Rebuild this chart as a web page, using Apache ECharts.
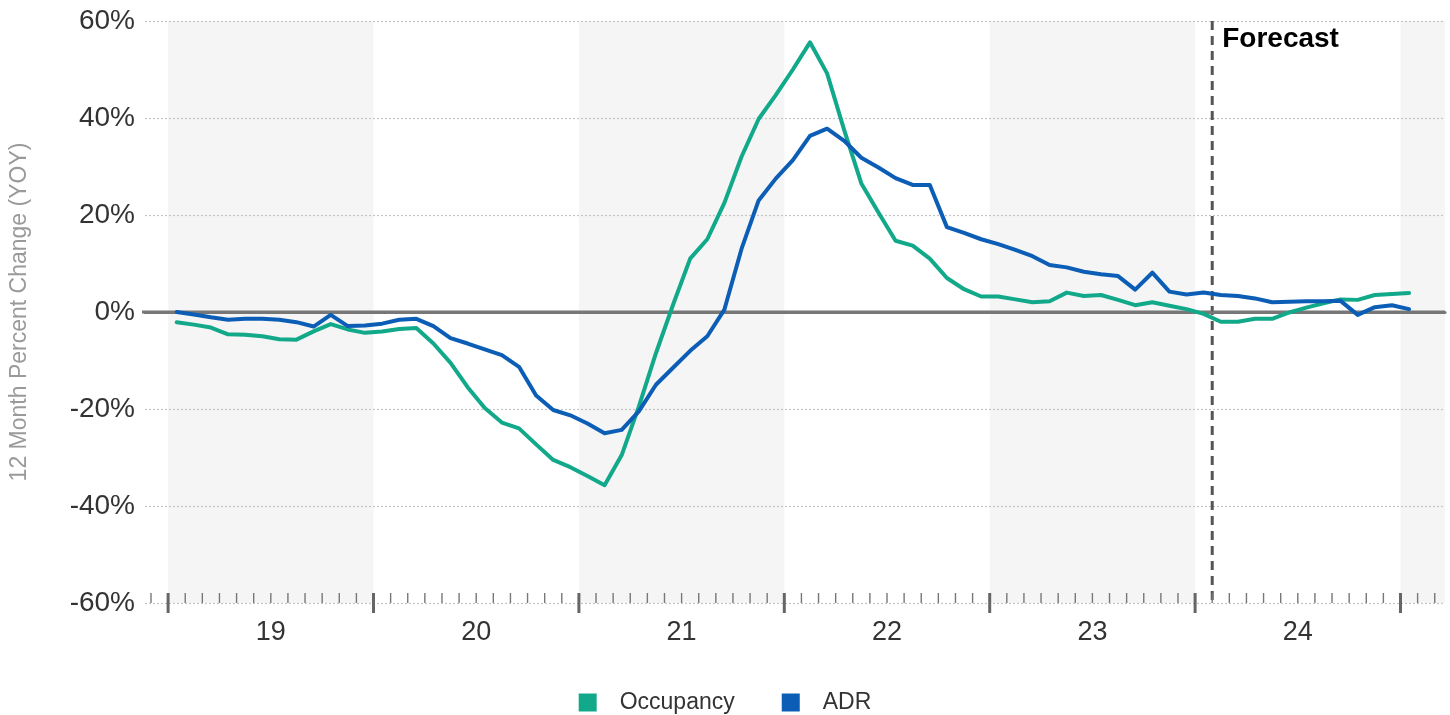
<!DOCTYPE html>
<html>
<head>
<meta charset="utf-8">
<script src="https://cdn.jsdelivr.net/npm/echarts@6/dist/echarts.min.js"></script>
<style>
  html, body { margin: 0; padding: 0; background: #fff; }
  #chart { width: 1450px; height: 715px; }
</style>
</head>
<body>
<div id="chart"></div>
<script>
// Monthly year-over-year change, Jan 2019 – Jan 2025
const firstYear = 2019;
const monthCount = 73;
const months = [];
for (let i = 0; i < monthCount; i++) {
  const y = firstYear + Math.floor(i / 12);
  const m = (i % 12) + 1;
  months.push(y + '-' + (m < 10 ? '0' + m : m));
}

const yearLabels = ['19', '20', '21', '22', '23', '24'];
const shadedYears = [2019, 2021, 2023, 2025];
const forecastStart = '2024-02';

const occupancy = [
  -2.1, -2.6, -3.2, -4.6, -4.7, -5.0, -5.6, -5.7, -4.0, -2.5, -3.6, -4.3,
  -4.0, -3.5, -3.3, -6.5, -10.5, -15.5, -19.8, -22.8, -24.0, -27.3, -30.5, -32.0,
  -33.8, -35.7, -29.5, -19.5, -8.5, 1.5, 11.0, 15.0, 22.5, 32.0, 39.8, 44.7,
  50.0, 55.6, 49.2, 37.5, 26.5, 20.5, 14.7, 13.7, 11.0, 7.0, 4.7, 3.2,
  3.2, 2.6, 2.0, 2.2, 4.0, 3.3, 3.5, 2.5, 1.4, 2.0, 1.3, 0.6,
  -0.4, -2.0, -2.0, -1.4, -1.4, -0.1, 0.9, 1.8, 2.6, 2.5, 3.5, 3.7,
  3.9
];

const adr = [
  0.0, -0.5, -1.1, -1.6, -1.4, -1.4, -1.6, -2.1, -3.0, -0.6, -2.9, -2.8,
  -2.4, -1.6, -1.4, -2.9, -5.4, -6.5, -7.7, -8.9, -11.3, -17.2, -20.2, -21.3,
  -23.0, -25.0, -24.3, -20.5, -15.0, -11.5, -8.0, -5.0, 0.5, 13.0, 23.0, 27.5,
  31.3, 36.3, 37.8, 35.3, 31.8, 29.8, 27.6, 26.2, 26.2, 17.5, 16.3, 15.0,
  14.0, 12.8, 11.5, 9.7, 9.2, 8.3, 7.8, 7.4, 4.6, 8.1, 4.2, 3.6,
  4.0, 3.5, 3.3, 2.8, 2.0, 2.1, 2.2, 2.2, 2.3, -0.6, 1.0, 1.4,
  0.6
];

// x is measured in months from the start of the first year; each value sits mid-month
const monthPos = label => {
  const [y, m] = label.split('-').map(Number);
  return (y - firstYear) * 12 + (m - 1);
};
const toPairs = values => values.map((v, i) => [monthPos(months[i]) + 0.5, v]);

const X_MIN = -1.35, X_MAX = 74.6;
const Y_MIN = -60, Y_MAX = 60;
const GREEN = '#12a88a', BLUE = '#0b5db5';
const FONT = '"Liberation Sans", Arial, sans-serif';

const bandData = shadedYears.map(y => [(y - firstYear) * 12, (y - firstYear + 1) * 12]);
const tickData = [];
for (let m = Math.ceil(X_MIN); m <= Math.floor(X_MAX); m++) tickData.push([m, Y_MIN]);
const yearCenters = yearLabels.map((_, i) => i * 12 + 6);

const chart = echarts.init(document.getElementById('chart'), null, { renderer: 'canvas' });

chart.setOption({
  animation: false,
  textStyle: { fontFamily: FONT },
  grid: { left: 145, right: 5, top: 21, bottom: 112, containLabel: false, outerBoundsMode: 'none' },
  legend: {
    data: ['Occupancy', 'ADR'],
    left: 'center',
    top: 686,
    icon: 'rect',
    itemWidth: 18,
    itemHeight: 18,
    itemGap: 47,
    textStyle: { fontSize: 23, color: '#333', fontFamily: FONT, padding: [0, 0, 0, 18] }
  },
  xAxis: {
    type: 'value',
    min: X_MIN,
    max: X_MAX,
    z: 2,
    axisLine: { show: true, lineStyle: { color: '#777', width: 3 } },
    axisTick: { show: false },
    splitLine: { show: false },
    axisLabel: {
      customValues: yearCenters,
      formatter: v => yearLabels[Math.round((v - 6) / 12)] || '',
      fontSize: 27,
      color: '#333',
      margin: 16
    }
  },
  yAxis: {
    type: 'value',
    min: Y_MIN,
    max: Y_MAX,
    interval: 20,
    z: 1,
    name: '12 Month Percent Change (YOY)',
    nameLocation: 'middle',
    nameRotate: 90,
    nameGap: 114,
    nameTextStyle: { fontSize: 23, color: '#9a9a9a', fontFamily: FONT },
    axisLine: { show: false },
    axisTick: { show: false },
    axisLabel: { formatter: '{value}%', fontSize: 28, color: '#333', margin: 10 },
    splitLine: { lineStyle: { color: '#c4c4c4', width: 1.2, type: [2, 2] } }
  },
  series: [
    {
      // alternating year bands
      type: 'custom',
      z: 0,
      silent: true,
      data: bandData,
      renderItem: (params, api) => {
        const cs = params.coordSys;
        const a = api.coord([api.value(0), Y_MAX]);
        const b = api.coord([api.value(1), Y_MIN]);
        const x0 = Math.max(a[0], cs.x), x1 = Math.min(b[0], cs.x + cs.width);
        if (x1 <= x0) return null;
        return { type: 'rect', shape: { x: x0, y: a[1], width: x1 - x0, height: b[1] - a[1] },
                 style: { fill: '#f5f5f5' } };
      }
    },
    {
      // zero line and forecast divider
      type: 'custom',
      z: 2,
      silent: true,
      data: [[monthPos(forecastStart), 0]],
      renderItem: (params, api) => {
        const cs = params.coordSys;
        const z = api.coord([X_MIN, 0]);
        const top = api.coord([api.value(0), Y_MAX]);
        const bot = api.coord([api.value(0), Y_MIN]);
        return {
          type: 'group',
          children: [
            { type: 'line', shape: { x1: cs.x - 3, y1: z[1], x2: cs.x + cs.width, y2: z[1] },
              style: { stroke: '#777', lineWidth: 3 } },
            { type: 'line', shape: { x1: top[0], y1: top[1], x2: bot[0], y2: bot[1] },
              style: { stroke: '#555', lineWidth: 3, lineDash: [9, 6] } },
            { type: 'text', x: top[0] + 10, y: top[1] + 4,
              style: { text: 'Forecast', fill: '#000', font: 'bold 28px ' + FONT,
                       textAlign: 'left', textVerticalAlign: 'top' } }
          ]
        };
      }
    },
    {
      // month ticks with heavier year boundaries
      type: 'custom',
      z: 3,
      silent: true,
      data: tickData,
      renderItem: (params, api) => {
        const m = api.value(0);
        const p = api.coord([m, Y_MIN]);
        const major = m % 12 === 0;
        return {
          type: 'line',
          shape: major ? { x1: p[0], y1: p[1] - 10, x2: p[0], y2: p[1] + 10 }
                       : { x1: p[0], y1: p[1] - 10, x2: p[0], y2: p[1] },
          style: { stroke: major ? '#666' : '#777', lineWidth: major ? 3 : 1.4 }
        };
      }
    },
    {
      name: 'Occupancy',
      type: 'line',
      z: 4,
      data: toPairs(occupancy),
      showSymbol: false,
      symbol: 'none',
      lineStyle: { color: GREEN, width: 4, cap: 'round', join: 'round' },
      itemStyle: { color: GREEN }
    },
    {
      name: 'ADR',
      type: 'line',
      z: 5,
      data: toPairs(adr),
      showSymbol: false,
      symbol: 'none',
      lineStyle: { color: BLUE, width: 4, cap: 'round', join: 'round' },
      itemStyle: { color: BLUE }
    }
  ]
});
</script>
</body>
</html>
